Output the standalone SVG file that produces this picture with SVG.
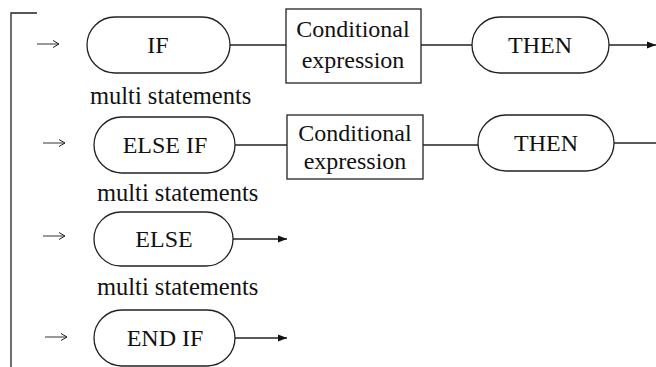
<svg xmlns="http://www.w3.org/2000/svg" width="656" height="367" viewBox="0 0 656 367">
<defs>
<marker id="fill" markerWidth="10" markerHeight="8" refX="9" refY="4" orient="auto" markerUnits="userSpaceOnUse">
<path d="M0,0.5 L9,4 L0,7.5 Z" fill="#111"/>
</marker>
<marker id="open" markerWidth="10" markerHeight="10" refX="8" refY="5" orient="auto" markerUnits="userSpaceOnUse">
<path d="M2,1.5 L8,5 L2,8.5" fill="none" stroke="#222" stroke-width="1"/>
</marker>
</defs>
<style>
.sh{fill:#fff;stroke:#222;stroke-width:1.3}
.ln{fill:none;stroke:#222;stroke-width:1.3}
.sm{fill:none;stroke:#333;stroke-width:1}
.t{font-family:"Liberation Serif","Times New Roman",serif;fill:#111;font-size:24px}
.b{font-size:24px}
.m{font-size:24.5px}
.c{text-anchor:middle}
</style>
<rect width="656" height="367" fill="#fff"/>
<g id="connectors">
<path class="ln" d="M11,367 L11,13 L37,13"/>
<line class="sm" x1="37" y1="44" x2="59" y2="44" marker-end="url(#open)"/>
<line class="sm" x1="43" y1="143" x2="65" y2="143" marker-end="url(#open)"/>
<line class="sm" x1="43" y1="236" x2="65" y2="236" marker-end="url(#open)"/>
<line class="sm" x1="45" y1="337" x2="67" y2="337" marker-end="url(#open)"/>
<line class="ln" x1="230" y1="45" x2="286" y2="45"/>
<line class="ln" x1="421" y1="45" x2="472" y2="45"/>
<line class="ln" x1="609" y1="45" x2="656" y2="45" marker-end="url(#fill)"/>
<line class="ln" x1="235" y1="145" x2="287" y2="145"/>
<line class="ln" x1="423" y1="145" x2="478" y2="145"/>
<line class="ln" x1="614" y1="143" x2="656" y2="143"/>
<line class="ln" x1="233" y1="239" x2="287" y2="239" marker-end="url(#fill)"/>
<line class="ln" x1="235" y1="338" x2="287" y2="338" marker-end="url(#fill)"/>
</g>
<g id="if">
<rect class="sh" x="87" y="17" width="143" height="56" rx="28"/>
<text class="t c" x="158" y="53">IF</text>
</g>
<g id="cond1">
<rect class="sh" x="286" y="9" width="135" height="74"/>
<text class="t c b" x="353" y="37">Conditional</text>
<text class="t c b" x="353" y="68">expression</text>
</g>
<g id="then1">
<rect class="sh" x="472" y="17" width="137" height="56" rx="28"/>
<text class="t c" x="540" y="53">THEN</text>
</g>
<g id="ms1"><text class="t m" x="90" y="104">multi statements</text></g>
<g id="elseif">
<rect class="sh" x="94" y="117" width="141" height="56" rx="28"/>
<text class="t c" x="165" y="153">ELSE IF</text>
</g>
<g id="cond2">
<rect class="sh" x="287" y="115" width="136" height="64"/>
<text class="t c b" x="355" y="141">Conditional</text>
<text class="t c b" x="355" y="169">expression</text>
</g>
<g id="then2">
<rect class="sh" x="478" y="115" width="136" height="56" rx="28"/>
<text class="t c" x="546" y="151">THEN</text>
</g>
<g id="ms2"><text class="t m" x="97" y="201">multi statements</text></g>
<g id="else">
<rect class="sh" x="94" y="212" width="139" height="54" rx="27"/>
<text class="t c" x="164" y="247">ELSE</text>
</g>
<g id="ms3"><text class="t m" x="97" y="295">multi statements</text></g>
<g id="endif">
<rect class="sh" x="94" y="310" width="141" height="56" rx="28"/>
<text class="t c" x="165" y="346">END IF</text>
</g>
</svg>
